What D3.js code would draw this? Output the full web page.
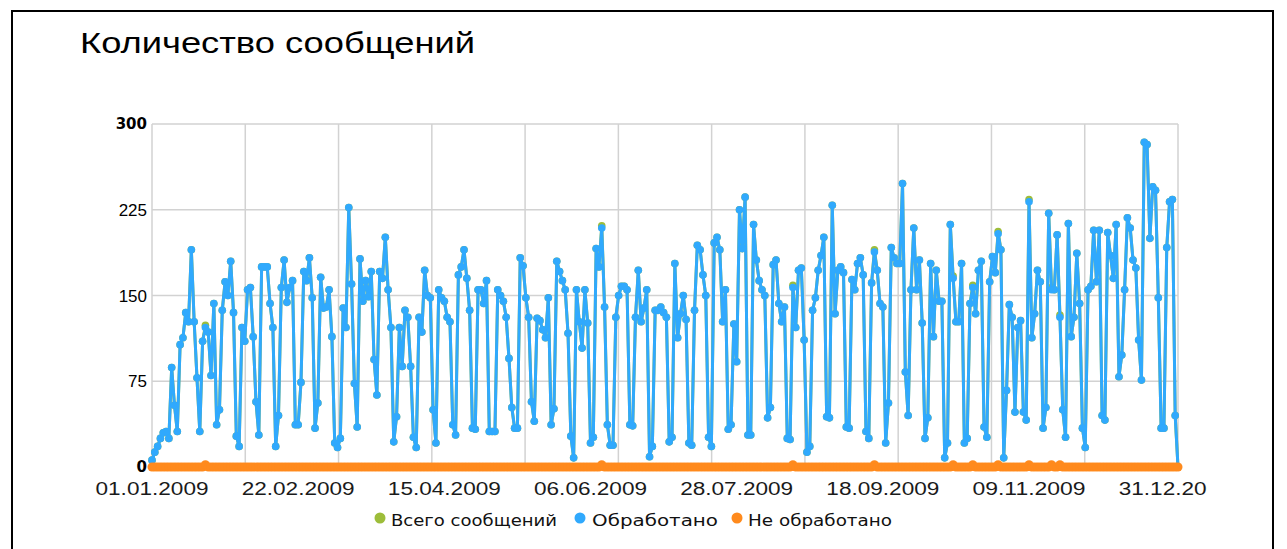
<!DOCTYPE html>
<html>
<head>
<meta charset="utf-8">
<script src="https://cdn.jsdelivr.net/npm/d3@7"></script>
<style>
  body { margin: 0; background: #fff; }
  svg { display: block; }
</style>
</head>
<body>
<svg id="chart" width="1287" height="549"></svg>
<script>
// ---- data: daily message counts, 01.01.2009 – 01.01.2010 ----
const firstDay = "01.01.2009";

const processed = [
  6, 13, 18, 25, 30, 31, 25, 87, 54, 31,
  107, 113, 135, 127, 190, 127, 78, 31, 110, 122,
  118, 80, 143, 37, 50, 137, 162, 150, 180, 135,
  27, 18, 122, 110, 155, 157, 114, 57, 28, 175,
  175, 175, 143, 122, 18, 45, 157, 181, 144, 157,
  163, 37, 37, 74, 171, 163, 183, 148, 34, 56,
  166, 139, 140, 155, 114, 21, 17, 25, 139, 122,
  227, 160, 73, 35, 182, 145, 163, 149, 171, 94,
  63, 171, 165, 201, 155, 122, 22, 44, 122, 88,
  137, 131, 88, 26, 17, 131, 118, 172, 150, 148,
  50, 21, 155, 148, 145, 131, 127, 37, 28, 168,
  175, 190, 165, 137, 34, 33, 155, 155, 143, 163,
  31, 31, 31, 155, 150, 145, 131, 95, 52, 34,
  34, 183, 176, 148, 131, 57, 40, 130, 128, 120,
  113, 148, 37, 51, 180, 171, 163, 155, 117, 27,
  8, 155, 127, 104, 155, 126, 21, 26, 191, 175,
  209, 140, 37, 19, 19, 131, 150, 158, 158, 155,
  37, 36, 131, 172, 127, 139, 155, 9, 18, 137,
  137, 140, 135, 131, 22, 26, 178, 113, 134, 150,
  129, 21, 19, 137, 194, 190, 168, 150, 26, 18,
  196, 201, 190, 127, 155, 33, 37, 125, 92, 225,
  191, 236, 28, 28, 212, 181, 163, 155, 150, 43,
  52, 177, 181, 143, 127, 140, 25, 24, 157, 122,
  172, 174, 111, 13, 18, 137, 148, 172, 185, 201,
  44, 43, 229, 134, 172, 175, 170, 35, 34, 164,
  155, 178, 183, 168, 31, 25, 161, 188, 172, 143,
  140, 21, 56, 192, 183, 178, 178, 248, 83, 45,
  155, 209, 155, 181, 126, 25, 43, 178, 114, 172,
  145, 145, 8, 21, 212, 165, 127, 127, 178, 21,
  25, 143, 157, 134, 172, 180, 35, 26, 162, 184,
  170, 204, 190, 8, 67, 142, 131, 48, 122, 128,
  48, 41, 232, 113, 134, 172, 162, 34, 52, 222,
  155, 155, 203, 131, 50, 26, 213, 114, 131, 187,
  143, 34, 17, 155, 158, 207, 162, 207, 45, 41,
  205, 185, 165, 212, 79, 98, 155, 218, 209, 181,
  174, 111, 76, 284, 282, 200, 245, 242, 148, 34,
  34, 192, 232, 234, 45, 0
];

const total = [
  6, 13, 18, 25, 30, 31, 25, 87, 54, 31,
  107, 113, 135, 127, 190, 127, 78, 31, 110, 124,
  118, 80, 143, 37, 50, 137, 162, 150, 180, 135,
  27, 18, 122, 110, 155, 157, 114, 57, 28, 175,
  175, 175, 143, 122, 18, 45, 157, 181, 144, 157,
  163, 37, 37, 74, 171, 163, 183, 148, 34, 56,
  166, 139, 140, 155, 114, 21, 17, 25, 139, 122,
  227, 160, 73, 35, 182, 145, 163, 149, 171, 94,
  63, 171, 165, 201, 155, 122, 22, 44, 122, 88,
  137, 131, 88, 26, 17, 131, 118, 172, 150, 148,
  50, 21, 155, 148, 145, 131, 127, 37, 28, 168,
  175, 190, 165, 137, 34, 33, 155, 155, 143, 163,
  31, 31, 31, 155, 150, 145, 131, 95, 52, 34,
  34, 183, 176, 148, 131, 57, 40, 130, 128, 120,
  113, 148, 37, 51, 180, 171, 163, 155, 117, 27,
  8, 155, 127, 104, 155, 126, 21, 26, 191, 175,
  211, 140, 37, 19, 19, 131, 150, 158, 158, 155,
  37, 36, 131, 172, 127, 139, 155, 9, 18, 137,
  137, 140, 135, 131, 22, 26, 178, 113, 134, 150,
  129, 21, 19, 137, 194, 190, 168, 150, 26, 18,
  196, 201, 190, 127, 155, 33, 37, 125, 92, 225,
  191, 236, 28, 28, 212, 181, 163, 155, 150, 43,
  52, 177, 181, 143, 127, 140, 25, 24, 159, 122,
  172, 174, 111, 13, 18, 137, 148, 172, 185, 201,
  44, 43, 229, 134, 172, 175, 170, 35, 34, 164,
  155, 178, 183, 168, 31, 25, 161, 190, 172, 143,
  140, 21, 56, 192, 183, 178, 178, 248, 83, 45,
  155, 209, 155, 181, 126, 25, 43, 178, 114, 172,
  145, 145, 8, 21, 212, 167, 127, 127, 178, 21,
  25, 143, 159, 134, 172, 180, 35, 26, 162, 184,
  170, 206, 190, 8, 67, 142, 131, 48, 122, 128,
  48, 41, 234, 113, 134, 172, 162, 34, 52, 222,
  157, 155, 203, 133, 50, 26, 213, 114, 131, 187,
  143, 34, 17, 155, 158, 207, 162, 207, 45, 41,
  205, 185, 165, 212, 79, 98, 155, 218, 209, 181,
  174, 111, 76, 284, 282, 200, 245, 242, 148, 34,
  34, 192, 232, 234, 45, 0
];

// days (offset from the first day) on which some messages stayed unprocessed
const unprocessedDays   = [19, 160, 228, 257, 285, 292, 301, 312, 320, 323];
const unprocessedCounts = [2, 2, 2, 2, 2, 2, 2, 2, 2, 2];

const yTicks = [0, 75, 150, 225, 300];
const boldYTicks = [0, 300];
const xTickLabels = ["01.01.2009", "22.02.2009", "15.04.2009", "06.06.2009",
                     "28.07.2009", "18.09.2009", "09.11.2009", "31.12.2009"];
const seriesNames = ["Всего сообщений", "Обработано", "Не обработано"];
const seriesColors = ["#9dbd3a", "#30a9fd", "#ff8a1d"];
const chartTitle = "Количество сообщений";

// ---- layout ----
const plot = { left: 152, right: 1178, top: 124, bottom: 467 };
const verticalDivisions = 11;

const parseDay = d3.timeParse("%d.%m.%Y");
const start = parseDay(firstDay);
const days = processed.map((_, i) => d3.timeDay.offset(start, i));

const unprocessedMap = new Map(unprocessedDays.map((d, i) => [d, unprocessedCounts[i]]));
const unprocessed = processed.map((_, i) => unprocessedMap.get(i) || 0);

const series = [
  { name: seriesNames[0], color: seriesColors[0], values: total },
  { name: seriesNames[1], color: seriesColors[1], values: processed },
  { name: seriesNames[2], color: seriesColors[2], values: unprocessed }
];

const svg = d3.select("#chart");

const x = d3.scaleTime()
  .domain([days[0], days[days.length - 1]])
  .range([plot.left, plot.right]);
const y = d3.scaleLinear()
  .domain([0, 300])
  .range([plot.bottom, plot.top]);

// outer frame
svg.append("rect")
  .attr("x", 12).attr("y", 11)
  .attr("width", 1261).attr("height", 600)
  .attr("fill", "none").attr("stroke", "#000").attr("stroke-width", 2);

// title
svg.append("text")
  .attr("x", 80).attr("y", 53)
  .attr("font-family", "Liberation Sans, Arial, sans-serif")
  .attr("font-size", 29)
  .attr("textLength", 395).attr("lengthAdjust", "spacingAndGlyphs")
  .attr("fill", "#000")
  .text(chartTitle);

// grid
const grid = svg.append("g").attr("stroke", "#d2d2d2").attr("stroke-width", 1.5);
grid.selectAll("line.h").data(yTicks).join("line")
  .attr("x1", plot.left).attr("x2", plot.right)
  .attr("y1", d => y(d)).attr("y2", d => y(d));
const divX = d3.scaleLinear().domain([0, verticalDivisions]).range([plot.left, plot.right]);
grid.selectAll("line.v").data(d3.range(verticalDivisions + 1)).join("line")
  .attr("x1", d => divX(d)).attr("x2", d => divX(d))
  .attr("y1", plot.top).attr("y2", plot.bottom);

// y axis labels
svg.append("g").selectAll("text").data(yTicks).join("text")
  .attr("x", 147)
  .attr("y", d => y(d))
  .attr("dy", "0.36em")
  .attr("text-anchor", "end")
  .attr("font-family", d => boldYTicks.includes(d) ? "DejaVu Sans, Verdana, sans-serif" : "Liberation Sans, Arial, sans-serif")
  .attr("font-weight", d => boldYTicks.includes(d) ? "bold" : "normal")
  .attr("font-size", d => boldYTicks.includes(d) ? 15 : 17)
  .attr("fill", "#000")
  .text(d => d);

// x axis labels (the last one is cut by the chart edge)
svg.append("defs").append("clipPath").attr("id", "labelClip")
  .append("rect").attr("x", 0).attr("y", 0).attr("width", 1207).attr("height", 549);
svg.append("g").attr("clip-path", "url(#labelClip)")
  .selectAll("text").data(xTickLabels).join("text")
  .attr("x", d => x(parseDay(d)))
  .attr("y", 495)
  .attr("text-anchor", "middle")
  .attr("font-family", "Liberation Sans, Arial, sans-serif")
  .attr("font-size", 18)
  .attr("textLength", 113).attr("lengthAdjust", "spacingAndGlyphs")
  .attr("fill", "#1a1a1a")
  .text(d => d);

// series
const line = d3.line()
  .x((d, i) => x(days[i]))
  .y(d => y(d));

series.forEach((s, k) => {
  const g = svg.append("g");
  const isBase = k === 2;
  g.append("path")
    .datum(s.values)
    .attr("d", line)
    .attr("fill", "none")
    .attr("stroke", s.color)
    .attr("stroke-width", isBase ? 6 : 3)
    .attr("stroke-linejoin", "round");
  g.selectAll("circle").data(s.values).join("circle")
    .attr("cx", (d, i) => x(days[i]))
    .attr("cy", d => y(d))
    .attr("r", isBase ? 4.5 : 3.8)
    .attr("fill", s.color);
});

// legend
const legendItems = [
  { dot: 380, text: 391, width: 166 },
  { dot: 580, text: 592, width: 126 },
  { dot: 737, text: 748, width: 144 }
];
const legend = svg.append("g");
legendItems.forEach((l, i) => {
  legend.append("circle")
    .attr("cx", l.dot).attr("cy", 518).attr("r", 5.5)
    .attr("fill", seriesColors[i]);
  legend.append("text")
    .attr("x", l.text).attr("y", 526)
    .attr("font-family", "DejaVu Sans, Verdana, sans-serif")
    .attr("font-size", 15)
    .attr("textLength", l.width).attr("lengthAdjust", "spacingAndGlyphs")
    .attr("fill", "#111")
    .text(seriesNames[i]);
});
</script>
</body>
</html>
